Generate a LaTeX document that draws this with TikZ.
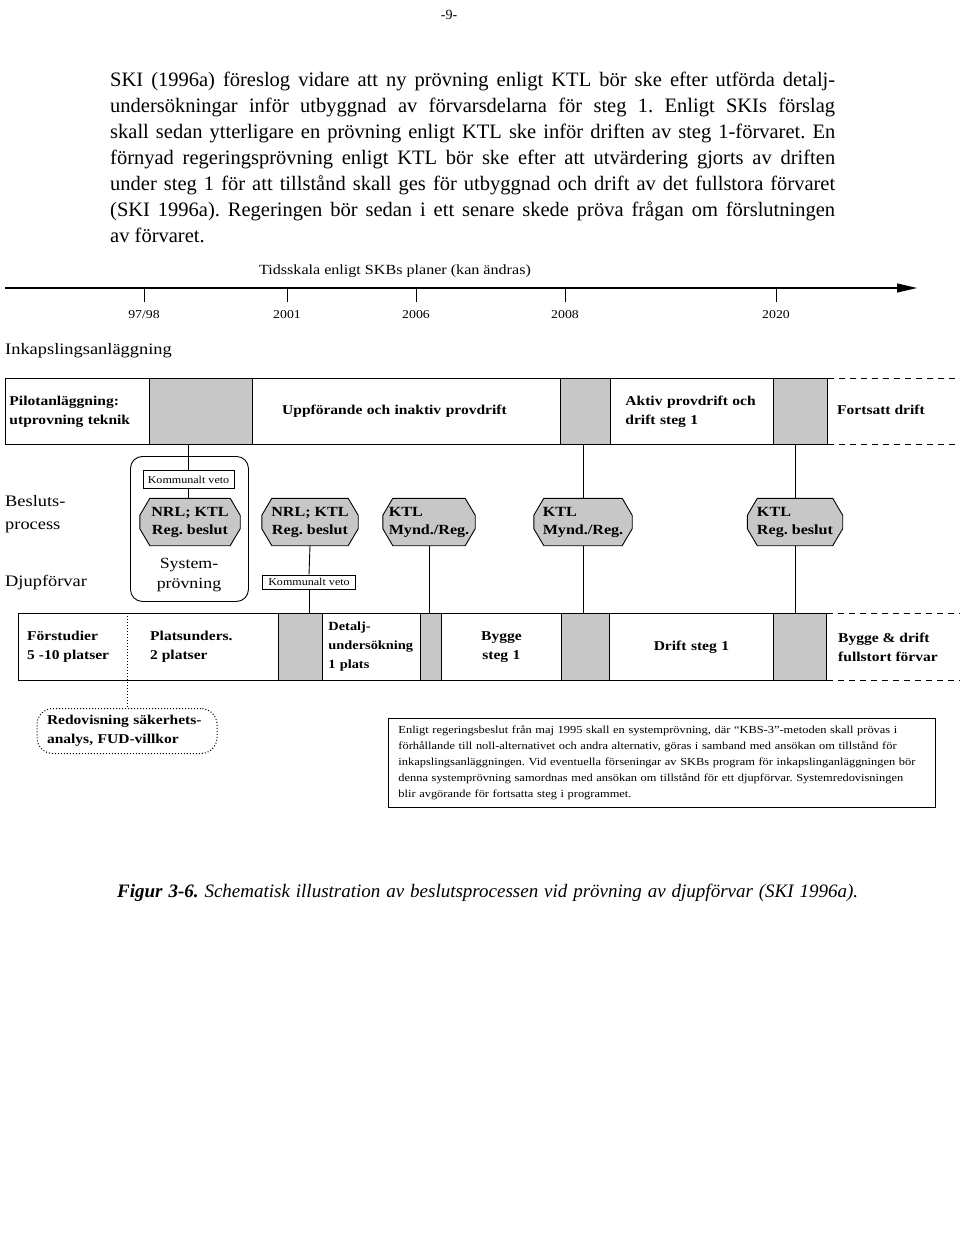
\documentclass[tikz,border=0pt]{standalone}
\usepackage{fontspec}
\setmainfont{Liberation Serif}
\newfontfamily\dfont[FakeStretch=1.15]{Liberation Serif}
\usetikzlibrary{backgrounds,arrows.meta}
\tikzset{
  body/.style={anchor=base west, inner sep=0pt, font=\fontsize{20.5}{26}\selectfont},
  ln/.style={line width=0.9pt},
  rowbox/.style={draw, line width=0.9pt, anchor=north west, inner ysep=0pt, minimum height=66pt,
     font=\dfont\bfseries\fontsize{13.5}{19}\selectfont},
  shd/.style={draw, line width=0.9pt, fill=black!22, anchor=north west, inner sep=0pt, minimum height=66pt},
  side/.style={anchor=west, inner sep=0pt, font=\dfont\fontsize{16}{23}\selectfont, align=left},
  yr/.style={inner sep=0pt, font=\dfont\fontsize{12}{14}\selectfont},
  kv/.style={draw, line width=0.8pt, inner sep=0pt, font=\dfont\fontsize{10.5}{12}\selectfont, fill=white},
  oct/.style={inner sep=0pt, font=\dfont\bfseries\fontsize{14}{18}\selectfont},
  octo/.style={draw, line width=0.9pt, fill=black!22},
  lbl/.style={anchor=west, inner sep=0pt, align=left, font=\dfont\bfseries\fontsize{13.5}{19}\selectfont},
}
\newcommand\octshape[1]{\draw[octo] ([xshift=10pt]#1.north west) -- ([xshift=-10pt]#1.north east) -- ([yshift=-17pt]#1.north east) -- ([yshift=17pt]#1.south east) -- ([xshift=-10pt]#1.south east) -- ([xshift=10pt]#1.south west) -- ([yshift=17pt]#1.south west) -- ([yshift=-17pt]#1.north west) -- cycle;}
\begin{document}
\frenchspacing
\begin{tikzpicture}[x=1pt,y=-1pt]
\useasboundingbox (0,0) rectangle (960,1247);

% page number and body text
\node[inner sep=0pt, font=\fontsize{14}{16}\selectfont] (pg) at (449,15) {-9-};
\node[body] (t1) at (110,86)  {\makebox[725pt][s]{SKI (1996a) föreslog vidare att ny prövning enligt KTL bör ske efter utförda detalj-}};
\node[body] (t2) at (110,112) {\makebox[725pt][s]{undersökningar inför utbyggnad av förvarsdelarna för steg 1. Enligt SKIs förslag}};
\node[body] (t3) at (110,138) {\makebox[725pt][s]{skall sedan ytterligare en prövning enligt KTL ske inför driften av steg 1-förvaret. En}};
\node[body] (t4) at (110,164) {\makebox[725pt][s]{förnyad regeringsprövning enligt KTL bör ske efter att utvärdering gjorts av driften}};
\node[body] (t5) at (110,190) {\makebox[725pt][s]{under steg 1 för att tillstånd skall ges för utbyggnad och drift av det fullstora förvaret}};
\node[body] (t6) at (110,216) {\makebox[725pt][s]{(SKI 1996a). Regeringen bör sedan i ett senare skede pröva frågan om förslutningen}};
\node[body] (t7) at (110,242) {av förvaret.};

% timeline
\node[yr, font=\dfont\fontsize{14}{16}\selectfont] (ts) at (395,271) {Tidsskala enligt SKBs planer (kan ändras)};
\coordinate (tl0) at (5,288);
\coordinate (tl1) at (917,288);
\draw[line width=1.1pt, -{Triangle[length=20pt,width=9pt]}] (tl0) -- (tl1);
\foreach \x/\y/\n in {144/97\slash98/a, 287/2001/b, 416/2006/c, 565/2008/d, 776/2020/e}{
  \coordinate (tk\n) at (\x,288);
  \node[yr] (y\n) at (\x,315) {\y};
  \draw[ln] (tk\n) -- ++(0,14);
}
\node[side] (ink) at (5,351) {Inkapslingsanläggning};

% row 1
\node[rowbox, inner xsep=4pt, text width=136pt, align=left] (p1) at (5,378) {Pilotanläggning:\\utprovning teknik};
\node[shd, minimum width=103pt] (s1) at (149,378) {};
\node[rowbox, inner xsep=0pt, text width=308pt, align=center] (u1) at (252,378) {\hspace*{-24pt}Uppförande och inaktiv provdrift};
\node[shd, minimum width=50pt] (s2) at (560,378) {};
\node[rowbox, inner xsep=15pt, text width=133pt, align=left] (a1) at (610,378) {Aktiv provdrift och\\drift steg 1};
\node[shd, minimum width=54pt] (s3) at (773,378) {};
\draw[ln, dash pattern=on 6pt off 5pt] (s3.north east) -- ++(133,0);
\draw[ln, dash pattern=on 6pt off 5pt] (s3.south east) -- ++(133,0);
\node[lbl] (fd) at (837,410) {Fortsatt drift};

% side labels
\node[side] (bp) at (5,514) {Besluts-\\process};
\node[side] (dj) at (5,583) {Djupförvar};

% decision row
\node[draw, line width=0.9pt, rounded corners=12pt, anchor=north west, minimum width=118pt, minimum height=145pt] (sys) at (130,456) {};
\node[kv, minimum width=91pt, minimum height=18pt] (kv1) at (188.5,479.5) {Kommunalt veto};
\node[oct, align=center, minimum width=100pt, minimum height=47pt] (o1) at (190,522) {NRL; KTL\\Reg. beslut};
\node[inner sep=0pt, align=center, font=\dfont\fontsize{15.5}{20}\selectfont] (sp) at (189,575) {System-\\prövning};
\node[oct, align=center, minimum width=96pt, minimum height=47pt] (o2) at (310,522) {NRL; KTL\\Reg. beslut};
\node[kv, minimum width=93pt, minimum height=14pt] (kv2) at (309,582) {Kommunalt veto};
\node[oct, align=left, minimum width=92pt, minimum height=47pt] (o3) at (429,522) {KTL\\Mynd./Reg.};
\node[oct, align=left, minimum width=98pt, minimum height=47pt] (o4) at (583,522) {KTL\\Mynd./Reg.};
\node[oct, align=left, minimum width=95pt, minimum height=47pt] (o5) at (795,522) {KTL\\Reg. beslut};
\begin{pgfonlayer}{background}
\octshape{o1}\octshape{o2}\octshape{o3}\octshape{o4}\octshape{o5}
\end{pgfonlayer}

% row 3
\node[rowbox, minimum width=260pt, minimum height=67pt] (f1) at (18,613) {};
\node[shd, minimum width=44pt, minimum height=67pt] (s4) at (278,613) {};
\node[rowbox, inner xsep=6pt, text width=86pt, align=left, minimum height=67pt, font=\dfont\bfseries\fontsize{12.5}{19}\selectfont] (d1) at (322,613) {Detalj-\\undersökning\\1 plats};
\node[shd, minimum width=21pt, minimum height=67pt] (s5) at (420,613) {};
\node[rowbox, inner xsep=0pt, text width=120pt, align=center, minimum height=67pt] (b1) at (441,613) {Bygge\\steg 1};
\node[shd, minimum width=48pt, minimum height=67pt] (s6) at (561,613) {};
\node[rowbox, inner xsep=0pt, text width=164pt, align=center, minimum height=67pt] (dr) at (609,613) {Drift steg 1};
\node[shd, minimum width=53pt, minimum height=67pt] (s7) at (773,613) {};
\draw[ln, dash pattern=on 6pt off 5pt] (s7.north east) -- ++(134,0);
\draw[ln, dash pattern=on 6pt off 5pt] (s7.south east) -- ++(134,0);
\node[lbl] (fs) at (27,647) {Förstudier\\5 -10 platser};
\node[lbl] (pu) at (150,647) {Platsunders.\\2 platser};
\node[lbl] (bd) at (838,647) {Bygge \& drift\\fullstort förvar};

% redovisning
\node[draw, dotted, line width=1pt, rounded corners=16pt, anchor=north, minimum width=180pt, minimum height=45pt,
  inner sep=0pt, text width=160pt, align=left, font=\dfont\bfseries\fontsize{13.5}{19}\selectfont] (red) at (127,708) {Redovisning säkerhets-\\analys, FUD-villkor};
\coordinate (dv) at (red.north |- f1.north);
\draw[line width=1pt, dotted] (dv) -- (red.north);

% note box
\node[draw, line width=0.9pt, anchor=north west, minimum width=547pt, minimum height=89pt, inner xsep=10pt,
  text width=527pt, align=left, font=\dfont\fontsize{10.8}{16}\selectfont] (note) at (388,718)
 {Enligt regeringsbeslut från maj 1995 skall en  systemprövning, där “KBS-3”-metoden skall prövas i\\
  förhållande till noll-alternativet och andra alternativ,  göras i samband med ansökan om tillstånd för\\
  inkapslingsanläggningen. Vid eventuella förseningar av SKBs program för inkapslinganläggningen bör\\
  denna systemprövning samordnas med ansökan om tillstånd för ett djupförvar. Systemredovisningen\\
  blir avgörande för fortsatta steg i programmet.};

% connectors
\draw[ln] (kv1.north) -- (kv1.north |- s1.south);
\draw[ln] (kv1.south) -- (kv1.south |- o1.north);
\draw[ln] (o2.south) -- (kv2.north);
\draw[ln] (kv2.south) -- (kv2.south |- s4.north);
\draw[ln] (o3.south) -- (o3.south |- s5.north);
\draw[ln] (o4.north) -- (o4.north |- s2.south);
\draw[ln] (o4.south) -- (o4.south |- s6.north);
\draw[ln] (o5.north) -- (o5.north |- s3.south);
\draw[ln] (o5.south) -- (o5.south |- s7.north);

% caption
\node[anchor=base west, inner sep=0pt, font=\itshape\fontsize{19}{22}\selectfont] (cap) at (117,897)
 {\makebox[741pt][s]{\textbf{Figur 3-6.} Schematisk illustration av beslutsprocessen vid prövning av djupförvar (SKI 1996a).}};
\end{tikzpicture}
\end{document}
